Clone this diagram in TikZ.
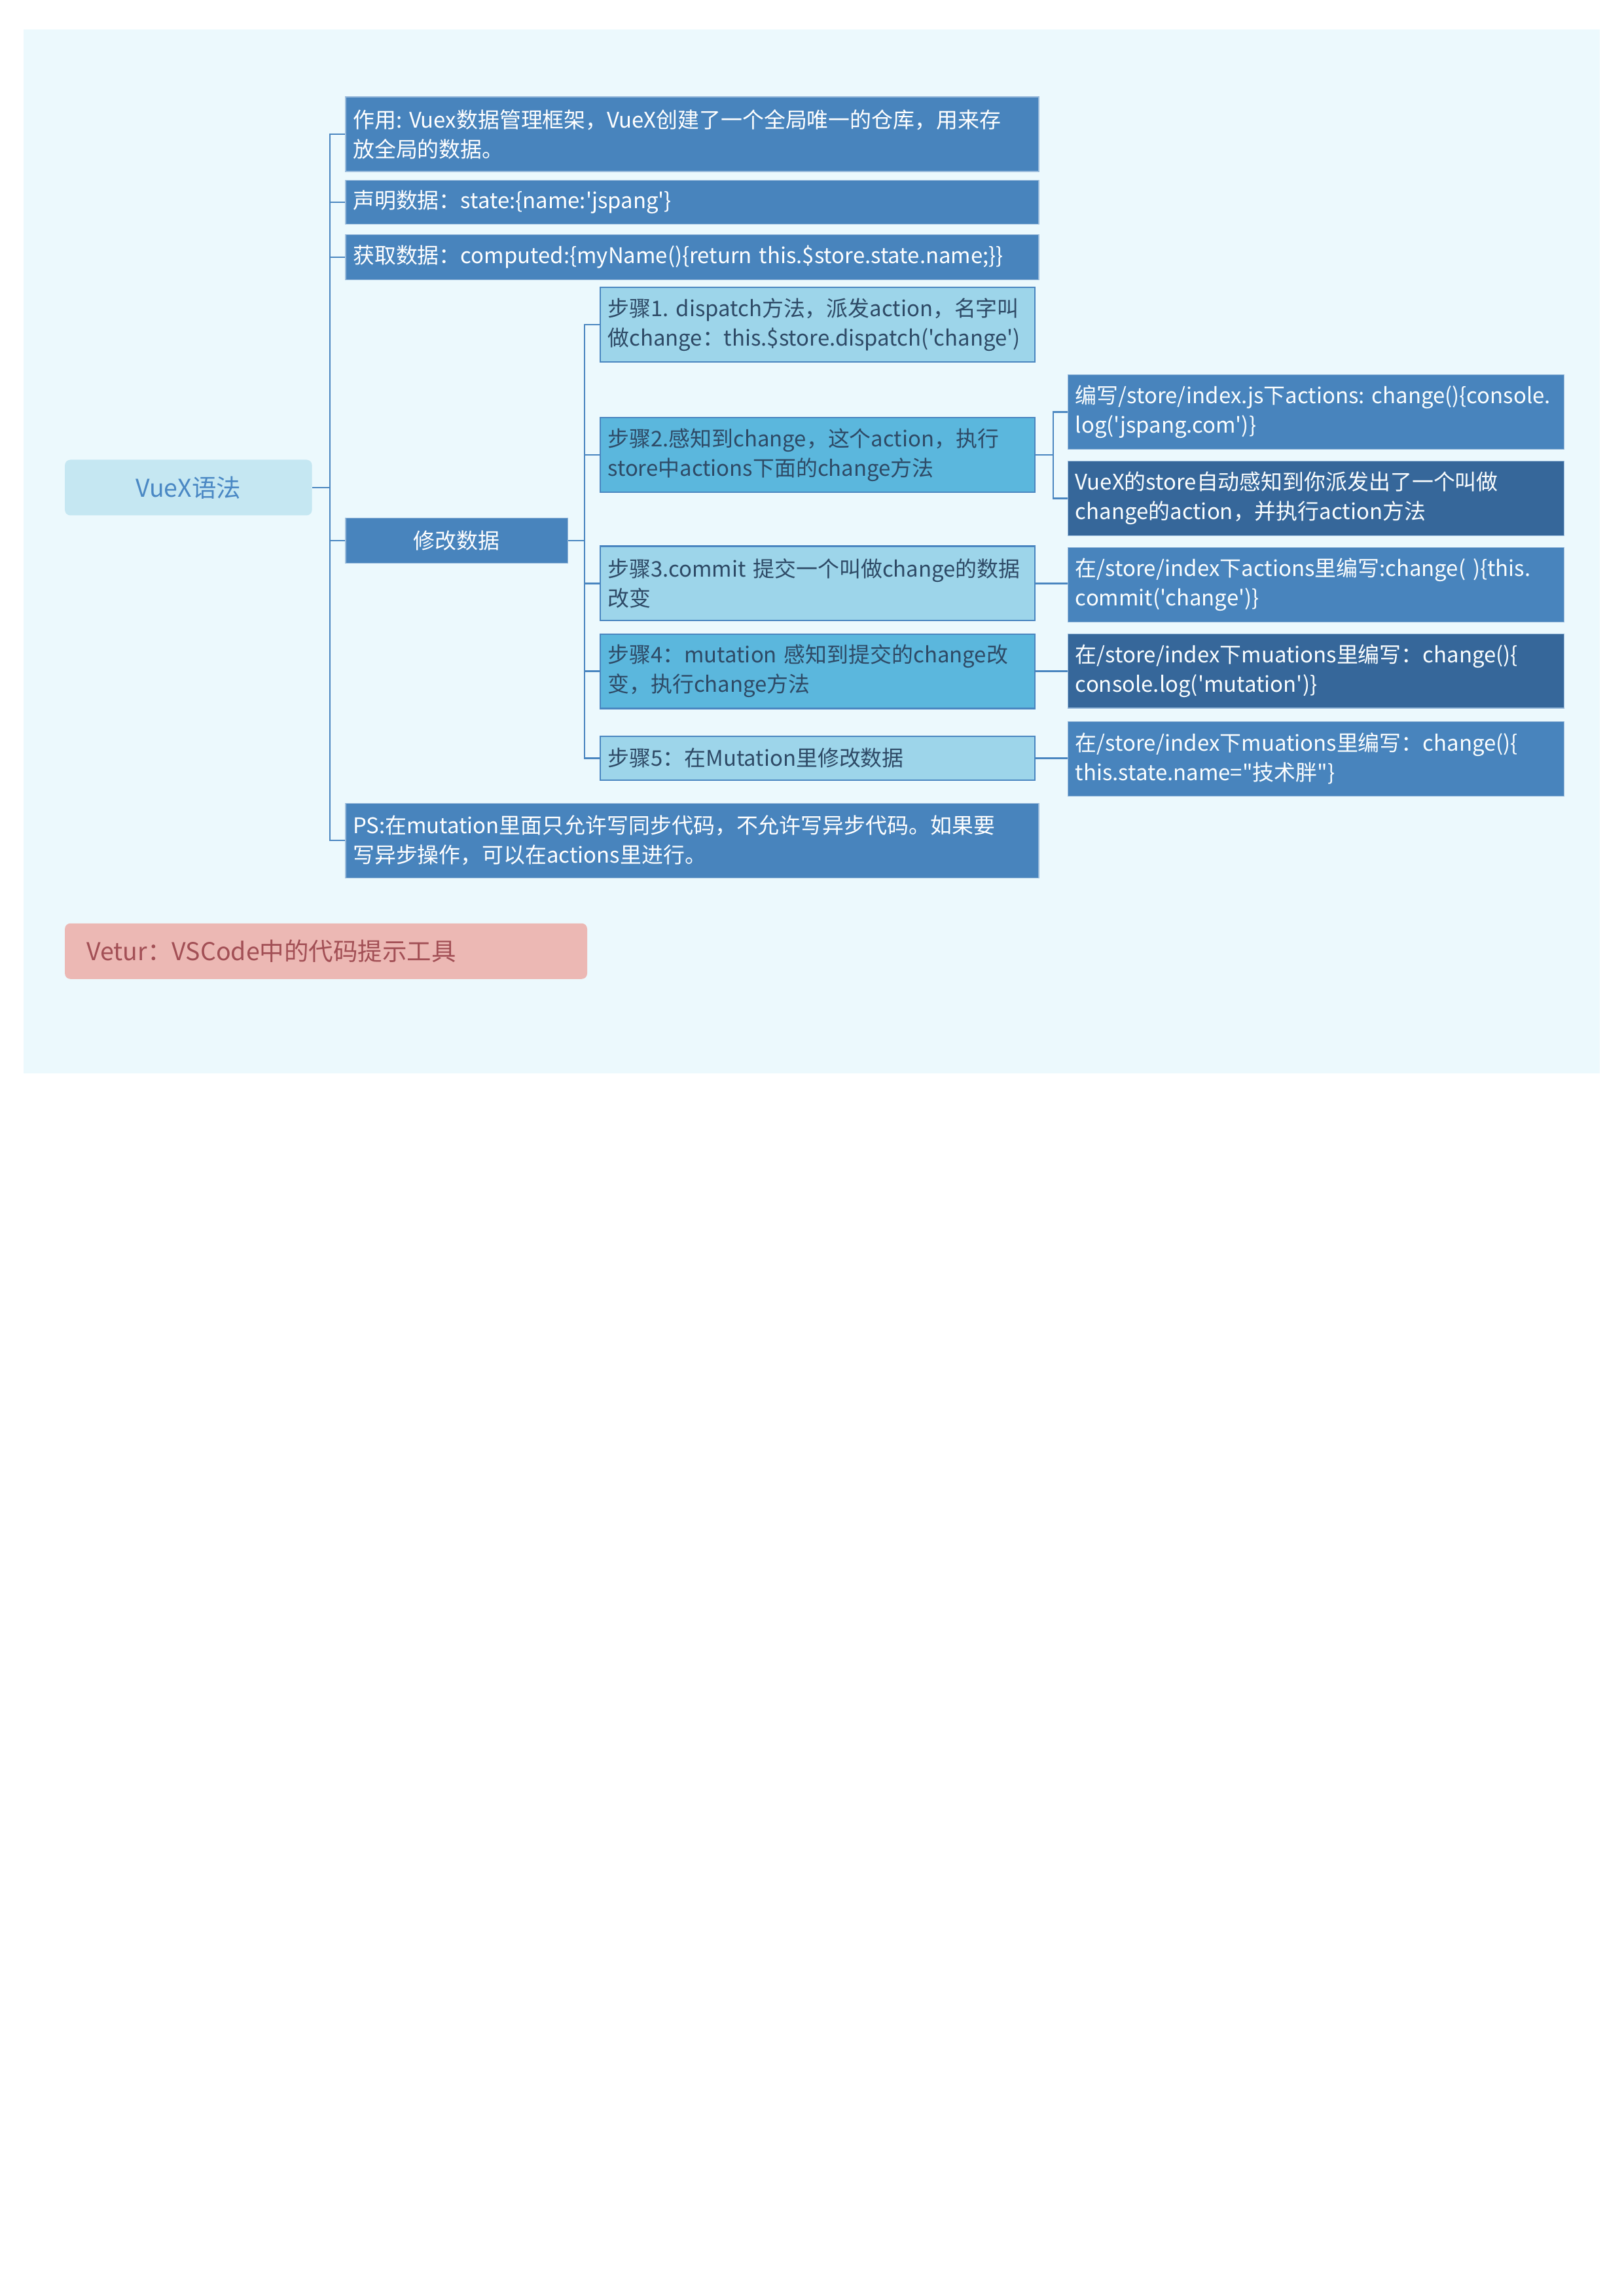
\documentclass[tikz,border=0pt]{standalone}
\usepackage{fontspec}
\setmainfont{Noto Sans CJK SC}[Ligatures=TeXOff]
\hyphenpenalty=10000

\definecolor{vxbg}{HTML}{ECF9FD}
\definecolor{vxroot}{HTML}{C5E7F2}
\definecolor{vxroottext}{HTML}{4A88C4}
\definecolor{vxmain}{HTML}{4884BD}
\definecolor{vxdark}{HTML}{36679A}
\definecolor{vxlight}{HTML}{9DD5EA}
\definecolor{vxmid}{HTML}{5BB7DD}
\definecolor{vxline}{HTML}{4A86C0}
\definecolor{vxsteptext}{HTML}{2E4A66}
\definecolor{vxtip}{HTML}{ECB8B4}
\definecolor{vxtiptext}{HTML}{A24F55}

\tikzset{
  boxfont/.style={font=\fontsize{7.9}{10.8}\selectfont},
  rootbox/.style={anchor=north west, fill=vxroot, rounded corners=2pt, text=vxroottext,
    minimum width=90.6pt, minimum height=20.4pt, align=center, inner sep=0pt,
    font=\fontsize{9}{11}\selectfont},
  mainbox/.style={anchor=north west, boxfont, fill=vxmain, draw=vxmain!55!white, line width=0.3pt,
    text=white, text width=248.8pt, inner xsep=2.7pt, inner ysep=0pt, align=left},
  leafbox/.style={anchor=north west, boxfont, fill=vxmain, draw=vxmain!55!white, line width=0.3pt,
    text=white!92!vxroot, text width=176.4pt, inner xsep=2.7pt, inner ysep=0pt,
    minimum height=27.35pt, align=left},
  stepbox/.style={anchor=north west, boxfont, fill=vxlight, draw=vxline, line width=0.5pt,
    text=vxsteptext, text width=153.9pt, inner xsep=2.7pt, inner ysep=0pt, align=left},
  tipbox/.style={anchor=north west, fill=vxtip, rounded corners=2pt, text=vxtiptext,
    text width=175.5pt, minimum height=20.4pt, inner xsep=8pt, inner ysep=0pt, align=left,
    font=\fontsize{9}{11}\selectfont},
  link/.style={draw=vxline, line width=0.55pt}
}

\begin{document}
\begin{tikzpicture}[x=0.5363pt,y=-0.5363pt]
    \useasboundingbox (0,0) rectangle (1110,1570);
    \fill[vxbg] (16,20) rectangle (1094,734);

    % root and first level
    \node[rootbox] (root) at (44,314) {VueX语法};
    \node[mainbox, minimum height=27.35pt] (use) at (236,66) {作用:~Vuex数据管理框架，VueX创建了一个全局唯一的仓库，用来存\\放全局的数据。};
    \node[mainbox, minimum height=16.1pt] (declare) at (236,123) {声明数据：state:\{name:'jspang'\}};
    \node[mainbox, minimum height=16.6pt] (fetch) at (236,160) {获取数据：computed:\{myName()\{return~this.\$store.state.name;\}\}};
    \node[mainbox, text width=76.1pt, minimum height=16.6pt, align=center] (modify) at (236,354) {修改数据};
    \node[mainbox, minimum height=27.35pt] (ps) at (236,549) {PS:在mutation里面只允许写同步代码，不允许写异步代码。如果要\\写异步操作，可以在actions里进行。};

    % steps
    \node[stepbox, minimum height=27.35pt] (s1) at (410,196) {步骤1.~dispatch方法，派发action，名字叫\\做change：this.\$store.dispatch('change')};
    \node[stepbox, fill=vxmid, minimum height=27.35pt] (s2) at (410,285) {步骤2.感知到change，这个action，执行\\store中actions下面的change方法};
    \node[stepbox, minimum height=27.35pt] (s3) at (410,373) {步骤3.commit~提交一个叫做change的数据\\改变};
    \node[stepbox, fill=vxmid, minimum height=27.35pt] (s4) at (410,433) {步骤4：mutation~感知到提交的change改\\变，执行change方法};
    \node[stepbox, minimum height=16.1pt] (s5) at (410,503) {步骤5：在Mutation里修改数据};

    % leaves
    \node[leafbox] (a1) at (730,256) {编写/store/index.js下actions:~change()\{console.\\log('jspang.com')\}};
    \node[leafbox, fill=vxdark] (a2) at (730,315) {VueX的store自动感知到你派发出了一个叫做\\change的action，并执行action方法};
    \node[leafbox] (c1) at (730,374) {在/store/index下actions里编写:change(~)\{this.\\commit('change')\}};
    \node[leafbox, fill=vxdark] (m1) at (730,433) {在/store/index下muations里编写：change()\{\\console.log('mutation')\}};
    \node[leafbox] (m2) at (730,493) {在/store/index下muations里编写：change()\{\\this.state.name="技术胖"\}};

    \node[tipbox] (vetur) at (44,631) {Vetur：VSCode中的代码提示工具};

    % connectors
    \draw[link] (root.east) -- ++(12,0) coordinate (rootfork);
    \foreach \n in {use,declare,fetch,modify,ps}
        \draw[link] (rootfork) |- (\n.west);
    \draw[link] (modify.east) -- ++(11,0) coordinate (modfork);
    \foreach \n in {s1,s2,s3,s4,s5}
        \draw[link] (modfork) |- (\n.west);
    \draw[link] (s2.east) -- ++(12,0) coordinate (s2fork);
    \foreach \n in {a1,a2}
        \draw[link] (s2fork) |- (\n.west);
    \draw[link] (s3.east) -- (s3.east -| c1.west);
    \draw[link] (s4.east) -- (s4.east -| m1.west);
    \draw[link] (s5.east) -- (s5.east -| m2.west);
\end{tikzpicture}
\end{document}
